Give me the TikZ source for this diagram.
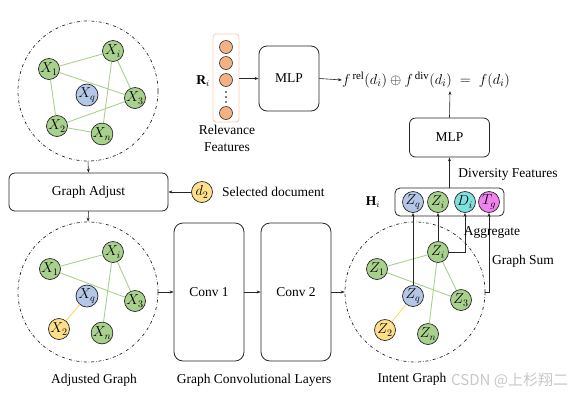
\documentclass[tikz,border=0pt]{standalone}
\usepackage{fontspec}
\setmainfont{Liberation Serif}
\newfontfamily\cjkfont{Noto Sans CJK SC}
\usetikzlibrary{arrows.meta}
\definecolor{ngreen}{HTML}{A9D18E}
\definecolor{nblue}{HTML}{B4C7E7}
\definecolor{nyellow}{HTML}{FFE08A}
\definecolor{ncyan}{HTML}{7FE0DE}
\definecolor{nmag}{HTML}{EE82EE}
\definecolor{norange}{HTML}{F4B183}
\definecolor{eorange}{HTML}{F8CBAD}
\definecolor{egreen}{HTML}{A9D18E}
\definecolor{eyellow}{HTML}{FFD966}
\begin{document}
\begin{tikzpicture}[x=1pt,y=-1pt,
  nd/.style={circle,draw=black!85,line width=0.7pt,minimum size=21pt,inner sep=0pt,font=\fontsize{14}{15}\selectfont},
  gn/.style={nd,fill=ngreen},
  bn/.style={nd,fill=nblue},
  yn/.style={nd,fill=nyellow},
  cn/.style={nd,fill=ncyan},
  mn/.style={nd,fill=nmag},
  on/.style={circle,draw=black!80,line width=0.6pt,fill=norange,minimum size=13pt,inner sep=0pt},
  dotn/.style={circle,fill=black,minimum size=1.8pt,inner sep=0pt},
  gcirc/.style={circle,draw=black!85,dash dot,line width=0.7pt,minimum size=140pt,inner sep=0pt},
  boxr/.style={draw=black!85,line width=0.8pt,rounded corners=6pt},
  ge/.style={draw=egreen,line width=0.9pt},
  ye/.style={draw=eyellow,line width=0.9pt},
  arr/.style={-{Stealth[length=4pt,width=3pt]},line width=0.6pt,draw=black!85},
  lbl/.style={font=\fontsize{13.5}{16}\selectfont,inner sep=0pt},
]
\useasboundingbox (0,0) rectangle (588,400);

% ---------- top-left graph ----------
\node[gcirc] (g1) at (88,91) {};
\node[gn] (a1) at (49,69) {$X_1$};
\node[gn] (ai) at (113,51) {$X_i$};
\node[bn] (aq) at (87,95) {$X_q$};
\node[gn] (a3) at (135,98) {$X_3$};
\node[gn] (a2) at (57,126) {$X_2$};
\node[gn] (an) at (102,134) {$X_n$};
\draw[ge] (a1) -- (ai);
\draw[ge] (a1) -- (a3);
\draw[ge] (ai) -- (a3);
\draw[ge] (ai) -- (an);
\draw[ge] (a1) -- (a2);
\draw[ge] (a2) -- (a3);
\draw[ge] (a2) -- (an);

% ---------- graph adjust ----------
\node[boxr,minimum width=159pt,minimum height=38pt,lbl] (adj) at (88.5,192) {Graph Adjust};
\draw[arr] (g1.south) -- (adj.north);
\node[yn] (d2) at (202,192) {$d_2$};
\draw[arr] (d2) -- (adj.east);
\node[lbl,anchor=west] (seldoc) at (222,192) {Selected document};

% ---------- adjusted graph ----------
\node[gcirc] (g2) at (88,292) {};
\draw[arr] (adj.south) -- (g2.north);
\node[gn] (b1) at (50,269) {$X_1$};
\node[gn] (bi) at (113,252) {$X_i$};
\node[bn] (bq) at (87,296) {$X_q$};
\node[gn] (b3) at (135,301) {$X_3$};
\node[yn] (b2) at (59,329) {$X_2$};
\node[gn] (bn) at (102,333) {$X_n$};
\draw[ge] (b1) -- (bi);
\draw[ge] (b1) -- (b3);
\draw[ge] (bi) -- (b3);
\draw[ge] (bi) -- (bn);
\draw[ye] (bq) -- (b2);
\node[lbl] (adjlbl) at (94,380) {Adjusted Graph};

% ---------- conv layers ----------
\node[boxr,rounded corners=9pt,minimum width=70pt,minimum height=138pt,lbl] (c1) at (209,292) {Conv 1};
\node[boxr,rounded corners=9pt,minimum width=70pt,minimum height=138pt,lbl] (c2) at (296,292) {Conv 2};
\draw[arr] (g2.east) -- (c1.west);
\draw[arr] (c1.east) -- (c2.west);
\node[lbl] (gcl) at (254,380) {Graph Convolutional Layers};

% ---------- intent graph ----------
\node[gcirc] (g3) at (415,292) {};
\draw[arr] (c2.east) -- (g3.west);
\node[gn] (z1) at (377,269) {$Z_1$};
\node[gn] (zi) at (438,252) {$Z_i$};
\node[bn] (zq) at (413,296) {$Z_q$};
\node[gn] (z3) at (461,300) {$Z_3$};
\node[yn] (z2) at (385,330) {$Z_2$};
\node[gn] (zn) at (428,334) {$Z_n$};
\draw[ge] (z1) -- (zi);
\draw[ge] (z1) -- (z3);
\draw[ge] (zi) -- (z3);
\draw[ge] (zi) -- (zn);
\draw[ye] (zq) -- (z2);
\node[lbl] (iglbl) at (412,379) {Intent Graph};

% ---------- H_i ----------
\node[boxr,rounded corners=5pt,minimum width=109pt,minimum height=28pt] (hbox) at (449.5,202) {};
\node[bn] (hq) at (413,202) {$Z_q$};
\node[gn] (hi) at (438,202) {$Z_i$};
\node[cn] (hd) at (465,202) {$D_i$};
\node[mn] (ht) at (489,202) {$T_g$};
\node[font=\fontsize{13.5}{16}\selectfont] (hlbl) at (373,202) {$\mathbf{H}_i$};
\draw[arr] (zq.north) -- (hq.south);
\draw[arr] (zi.north) -- (hi.south);
\draw[arr] (zi.east) -| (hd.south);
\draw[arr] (g3.east) -| (ht.south);
\node[lbl] (agg) at (492,232) {Aggregate};
\node[lbl] (gsum) at (523,261) {Graph Sum};
\node[lbl] (divf) at (508,174) {Diversity Features};

% ---------- MLP (diversity) ----------
\node[boxr,minimum width=80pt,minimum height=39pt,lbl] (mlp2) at (449.5,137.5) {MLP};
\draw[arr] (hbox.north) -- (mlp2.south);

% ---------- relevance ----------
\node[draw=eorange,line width=0.8pt,rounded corners=3pt,minimum width=26pt,minimum height=88pt] (rvec) at (226,78) {};
\node[on] (r1) at (226,47) {};
\node[on] (r2) at (226,63) {};
\node[on] (r3) at (226,80) {};
\node[dotn] (rd1) at (226,92) {};
\node[dotn] (rd2) at (226,97) {};
\node[dotn] (rd3) at (226,102) {};
\node[on] (r4) at (226,113) {};
\node[font=\fontsize{13.5}{16}\selectfont] (rlbl) at (203,81) {$\mathbf{R}_i$};
\node[lbl,align=center,font=\fontsize{13.5}{17}\selectfont] (rfl) at (227,138.5) {Relevance\\Features};
\node[boxr,rounded corners=8pt,minimum width=60pt,minimum height=65pt,lbl] (mlp1) at (289,78.5) {MLP};
\draw[arr] (rvec.east |- mlp1.west) -- (mlp1.west);

% ---------- formula ----------
\node[font=\fontsize{15.5}{18}\selectfont,inner sep=0pt,anchor=west] (form) at (342,80) {$f^{\,\mathrm{rel}}(d_i)\oplus f^{\,\mathrm{div}}(d_i)\;=\;f(d_i)$};
\coordinate (fdiv) at (450,91);
\draw[arr] (mlp1.east) -- (form.west);
\draw[arr] (mlp2.north) -- (fdiv);

% ---------- watermark ----------
\node[text=black!22,font=\cjkfont\fontsize{15}{18}\selectfont,inner sep=0pt,anchor=west] (wm) at (451,380) {CSDN @上杉翔二};
\end{tikzpicture}
\end{document}
